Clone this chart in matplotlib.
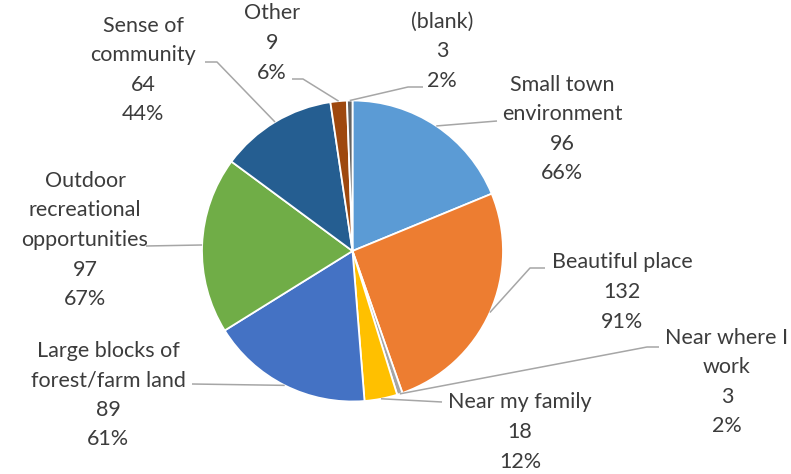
import numpy as np
import matplotlib
matplotlib.use('Agg')
import matplotlib.pyplot as plt

labels = ['Small town\nenvironment', 'Beautiful place', 'Near where I\nwork', 'Near my family',
          'Large blocks of\nforest/farm land', 'Outdoor\nrecreational\nopportunities',
          'Sense of\ncommunity', 'Other', '(blank)']
counts = [96, 132, 3, 18, 89, 97, 64, 9, 3]
percents = ['66%', '91%', '2%', '12%', '61%', '67%', '44%', '6%', '2%']
colors = ['#5B9BD5', '#ED7D31', '#A5A5A5', '#FFC000', '#4472C4',
          '#70AD47', '#255E91', '#9E480E', '#636363']

W, H = 791, 474
CX, CY, R = 352.5, 251.0, 150.5


def px(x, y):
    # pixel position -> data coords (pie centred at 0, radius 1)
    return (x - CX) / R, (CY - y) / R


# label block centres and leader bend points, in pixels
text_pos = [(562, 129), (622, 292), (727, 382), (520, 432), (108, 395),
            (85, 240), (143, 70), (272, 43), (442, 51)]
leader_pts = [[(497, 121)], [(530, 268), (545, 268)], [(647, 347), (659, 347)],
              [(442, 402)], [(192, 384)], [(146, 246)],
              [(217, 62), (205, 62)], [(303, 79), (292, 79)], [(408, 87), (423, 87)]]

fig = plt.figure(figsize=(W / 100, H / 100), dpi=100)
ax = fig.add_axes([0, 0, 1, 1])

wedges, _ = ax.pie(counts, colors=colors, startangle=90, counterclock=False,
                   radius=1, center=(0, 0), frame=True,
                   wedgeprops=dict(edgecolor='white', linewidth=1.3))
ax.set_xlim(-CX / R, (W - CX) / R)
ax.set_ylim((CY - H) / R, CY / R)
ax.set_aspect('auto')
ax.axis('off')

total = sum(counts)
cum = np.cumsum([0] + counts)
for i, w in enumerate(wedges):
    mid = np.deg2rad(90 - (cum[i] + counts[i] / 2) / total * 360)
    xs = [np.cos(mid)] + [px(*p)[0] for p in leader_pts[i]]
    ys = [np.sin(mid)] + [px(*p)[1] for p in leader_pts[i]]
    ax.plot(xs, ys, color='#A6A6A6', lw=1.1, solid_capstyle='butt')
    tx, ty = px(*text_pos[i])
    ax.text(tx, ty, f'{labels[i]}\n{counts[i]}\n{percents[i]}', ha='center', va='center',
            fontsize=15.5, family='Lato', color='#3c3c3c', linespacing=1.6)

fig.savefig('out.png', dpi=100)
